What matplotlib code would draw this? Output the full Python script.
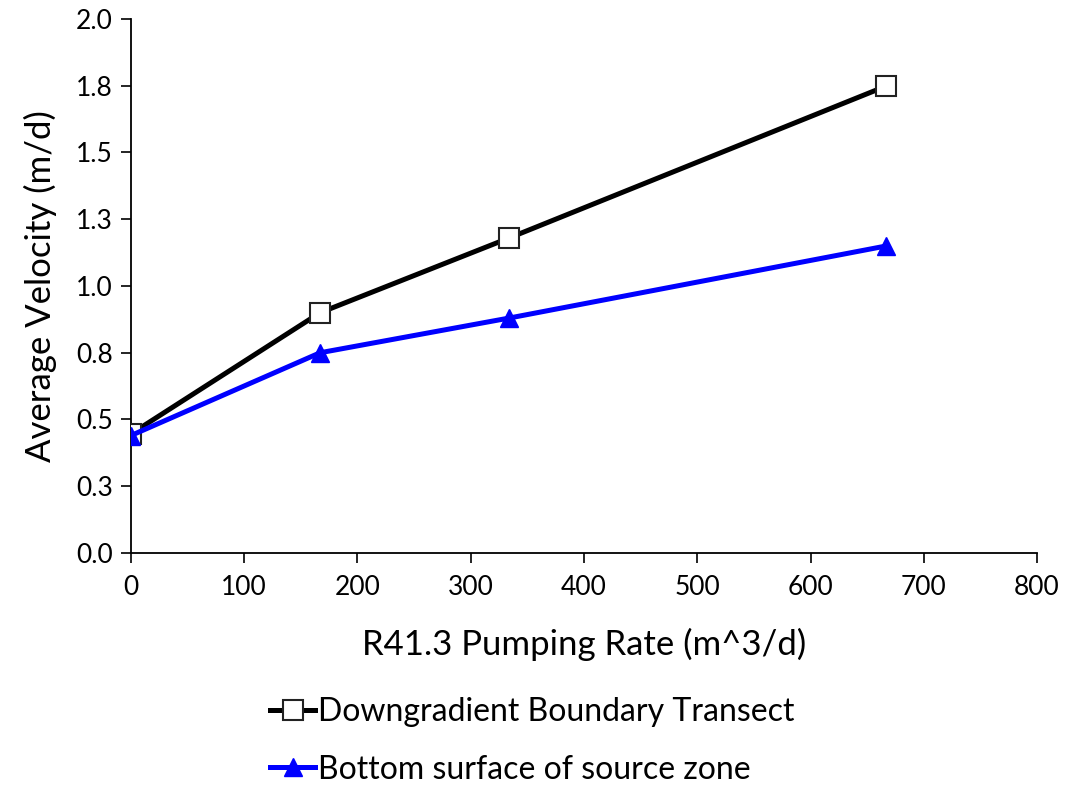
import matplotlib.pyplot as plt
from matplotlib.ticker import FixedLocator

rate = [0, 167, 334, 667]
downgradient = [0.446, 0.900, 1.180, 1.749]
bottom_surface = [0.440, 0.750, 0.880, 1.150]

y_ticks = [0.0, 0.25, 0.5, 0.75, 1.0, 1.25, 1.5, 1.75, 2.0]
y_tick_labels = ["0.0", "0.3", "0.5", "0.8", "1.0", "1.3", "1.5", "1.8", "2.0"]
x_ticks = [0, 100, 200, 300, 400, 500, 600, 700, 800]

plt.rcParams["font.family"] = ["Lato", "DejaVu Sans"]

fig = plt.figure(figsize=(10.78, 7.9), dpi=100)
ax = fig.add_axes([0.1215, 0.30, 0.8405, 0.676])

ax.plot(rate, downgradient, color="black", lw=3.6, marker="s", markersize=14,
        markerfacecolor="white", markeredgecolor="#222222", markeredgewidth=1.5,
        label="Downgradient Boundary Transect", zorder=3)
ax.plot(rate, bottom_surface, color="#0000ff", lw=3.6, marker="^", markersize=13,
        markerfacecolor="#0000ff", markeredgecolor="#0000ff",
        label="Bottom surface of source zone", zorder=4)

ax.set_xlim(0, 800)
ax.set_ylim(0, 2.0)
ax.xaxis.set_major_locator(FixedLocator(x_ticks))
ax.set_yticks(y_ticks)
ax.set_yticklabels(y_tick_labels)
ax.tick_params(axis="both", direction="out", length=7, width=1.2, labelsize=19)
ax.tick_params(axis="x", pad=9)
ax.tick_params(axis="y", pad=6)
for side in ("top", "right"):
    ax.spines[side].set_visible(False)
for side in ("left", "bottom"):
    ax.spines[side].set_linewidth(1.3)

ax.set_xlabel("R41.3 Pumping Rate (m^3/d)", fontsize=25, labelpad=20)
ax.set_ylabel("Average Velocity (m/d)", fontsize=25, labelpad=14)

fig.legend(loc="center", bbox_to_anchor=(0.494, 0.062), ncol=1, frameon=False,
           fontsize=23, handlelength=1.4, handletextpad=0.1, labelspacing=0.85,
           borderpad=0.2)

fig.savefig("out.png", dpi=100, facecolor="white")
